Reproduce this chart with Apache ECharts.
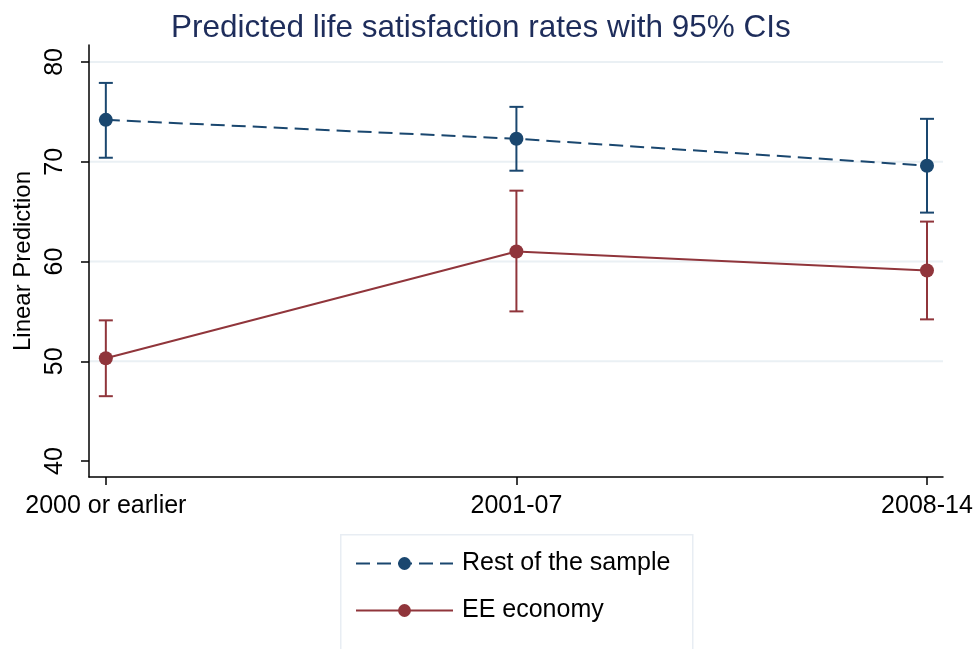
<!DOCTYPE html>
<html>
<head>
<meta charset="utf-8">
<script src="https://cdn.jsdelivr.net/npm/echarts@6/dist/echarts.min.js"></script>
<style>
  html, body { margin: 0; padding: 0; background: #fff; }
  #chart { width: 980px; height: 649px; }
</style>
</head>
<body>
<div id="chart"></div>
<script>
// Period categories on the x axis
const periods = ['2000 or earlier', '2001-07', '2008-14'];

// Predicted values and 95% confidence bounds
const restPred = [74.2, 72.3, 69.6];
const restLow  = [70.4, 69.1, 64.9];
const restHigh = [77.9, 75.5, 74.3];

const eePred = [50.3, 61.0, 59.1];
const eeLow  = [46.5, 55.0, 54.2];
const eeHigh = [54.1, 67.1, 64.0];

// Axis ticks
const yTicks = [40, 50, 60, 70, 80];
const yGrid = [50, 60, 70, 80];
const xTicks = [0, 1, 2];

const BLUE = '#1a476f';
const RED = '#90353b';
const FONT = 'Liberation Sans, Arial, sans-serif';

const chart = echarts.init(document.getElementById('chart'), null, { renderer: 'canvas' });

function errorBarItem(color) {
  return function (params, api) {
    const x = api.value(0);
    const lo = api.coord([x, api.value(1)]);
    const hi = api.coord([x, api.value(2)]);
    const half = 7;
    const style = { stroke: color, lineWidth: 2 };
    return {
      type: 'group',
      children: [
        { type: 'line', shape: { x1: lo[0], y1: lo[1], x2: hi[0], y2: hi[1] }, style },
        { type: 'line', shape: { x1: lo[0] - half, y1: lo[1], x2: lo[0] + half, y2: lo[1] }, style },
        { type: 'line', shape: { x1: hi[0] - half, y1: hi[1], x2: hi[0] + half, y2: hi[1] }, style }
      ]
    };
  };
}

const option = {
  animation: false,
  backgroundColor: '#ffffff',
  title: {
    text: 'Predicted life satisfaction rates with 95% CIs',
    left: 166,
    top: 7,
    textStyle: { fontFamily: FONT, fontSize: 31.5, fontWeight: 'normal', color: '#1e2d5b' }
  },
  grid: { left: 89, right: 37, top: 45, bottom: 172, containLabel: false },
  xAxis: {
    type: 'value',
    min: -0.041,
    max: 2.039,
    splitLine: { show: false },
    axisLine: { show: true, onZero: false, lineStyle: { color: '#000', width: 1.5 } },
    axisTick: { show: true, length: 8, customValues: xTicks, lineStyle: { color: '#000', width: 1.5 } },
    axisLabel: {
      customValues: xTicks,
      margin: 17,
      fontFamily: FONT, fontSize: 25, color: '#000',
      formatter: v => periods[Math.round(v)]
    }
  },
  yAxis: {
    type: 'value',
    min: 38.4,
    max: 81.7,
    name: 'Linear Prediction',
    nameLocation: 'middle',
    nameGap: 53,
    nameRotate: 90,
    nameTextStyle: { fontFamily: FONT, fontSize: 24, color: '#000' },
    splitLine: { show: false },
    axisLine: { show: true, onZero: false, lineStyle: { color: '#000', width: 1.5 } },
    axisTick: { show: true, length: 8, customValues: yTicks, lineStyle: { color: '#000', width: 1.5 } },
    axisLabel: {
      customValues: yTicks,
      rotate: 90,
      margin: 21,
      fontFamily: FONT, fontSize: 25, color: '#000'
    }
  },
  legend: {
    orient: 'vertical',
    left: 350,
    top: 546,
    itemWidth: 97,
    itemHeight: 16,
    itemGap: 22,
    data: ['Rest of the sample', 'EE economy'],
    textStyle: { fontFamily: FONT, fontSize: 25, color: '#000', padding: [0, 0, 0, 4] }
  },
  graphic: [{
    type: 'rect',
    left: 340,
    top: 534,
    shape: { width: 352, height: 130 },
    style: { fill: '#ffffff', stroke: '#e8edf3', lineWidth: 1.5 },
    z: -1
  }],
  series: [
    {
      name: 'gridlines',
      type: 'custom',
      z: 0,
      silent: true,
      data: yGrid.map(v => [v]),
      encode: { y: 0 },
      renderItem: function (params, api) {
        const cs = params.coordSys;
        const y = api.coord([0, api.value(0)])[1];
        return {
          type: 'line',
          shape: { x1: cs.x, y1: y, x2: cs.x + cs.width, y2: y },
          style: { stroke: '#eaf0f4', lineWidth: 2 }
        };
      }
    },
    {
      name: 'Rest of the sample CI',
      type: 'custom',
      z: 3,
      silent: true,
      data: restPred.map((_, i) => [i, restLow[i], restHigh[i]]),
      encode: { x: 0, y: [1, 2] },
      renderItem: errorBarItem(BLUE)
    },
    {
      name: 'EE economy CI',
      type: 'custom',
      z: 3,
      silent: true,
      data: eePred.map((_, i) => [i, eeLow[i], eeHigh[i]]),
      encode: { x: 0, y: [1, 2] },
      renderItem: errorBarItem(RED)
    },
    {
      name: 'Rest of the sample',
      type: 'line',
      z: 4,
      data: restPred.map((v, i) => [i, v]),
      symbol: 'circle',
      symbolSize: 14,
      showAllSymbol: true,
      itemStyle: { color: BLUE },
      lineStyle: { color: BLUE, width: 2, type: [14, 7] }
    },
    {
      name: 'EE economy',
      type: 'line',
      z: 4,
      data: eePred.map((v, i) => [i, v]),
      symbol: 'circle',
      symbolSize: 14,
      showAllSymbol: true,
      itemStyle: { color: RED },
      lineStyle: { color: RED, width: 2 }
    }
  ]
};

chart.setOption(option);
</script>
</body>
</html>
